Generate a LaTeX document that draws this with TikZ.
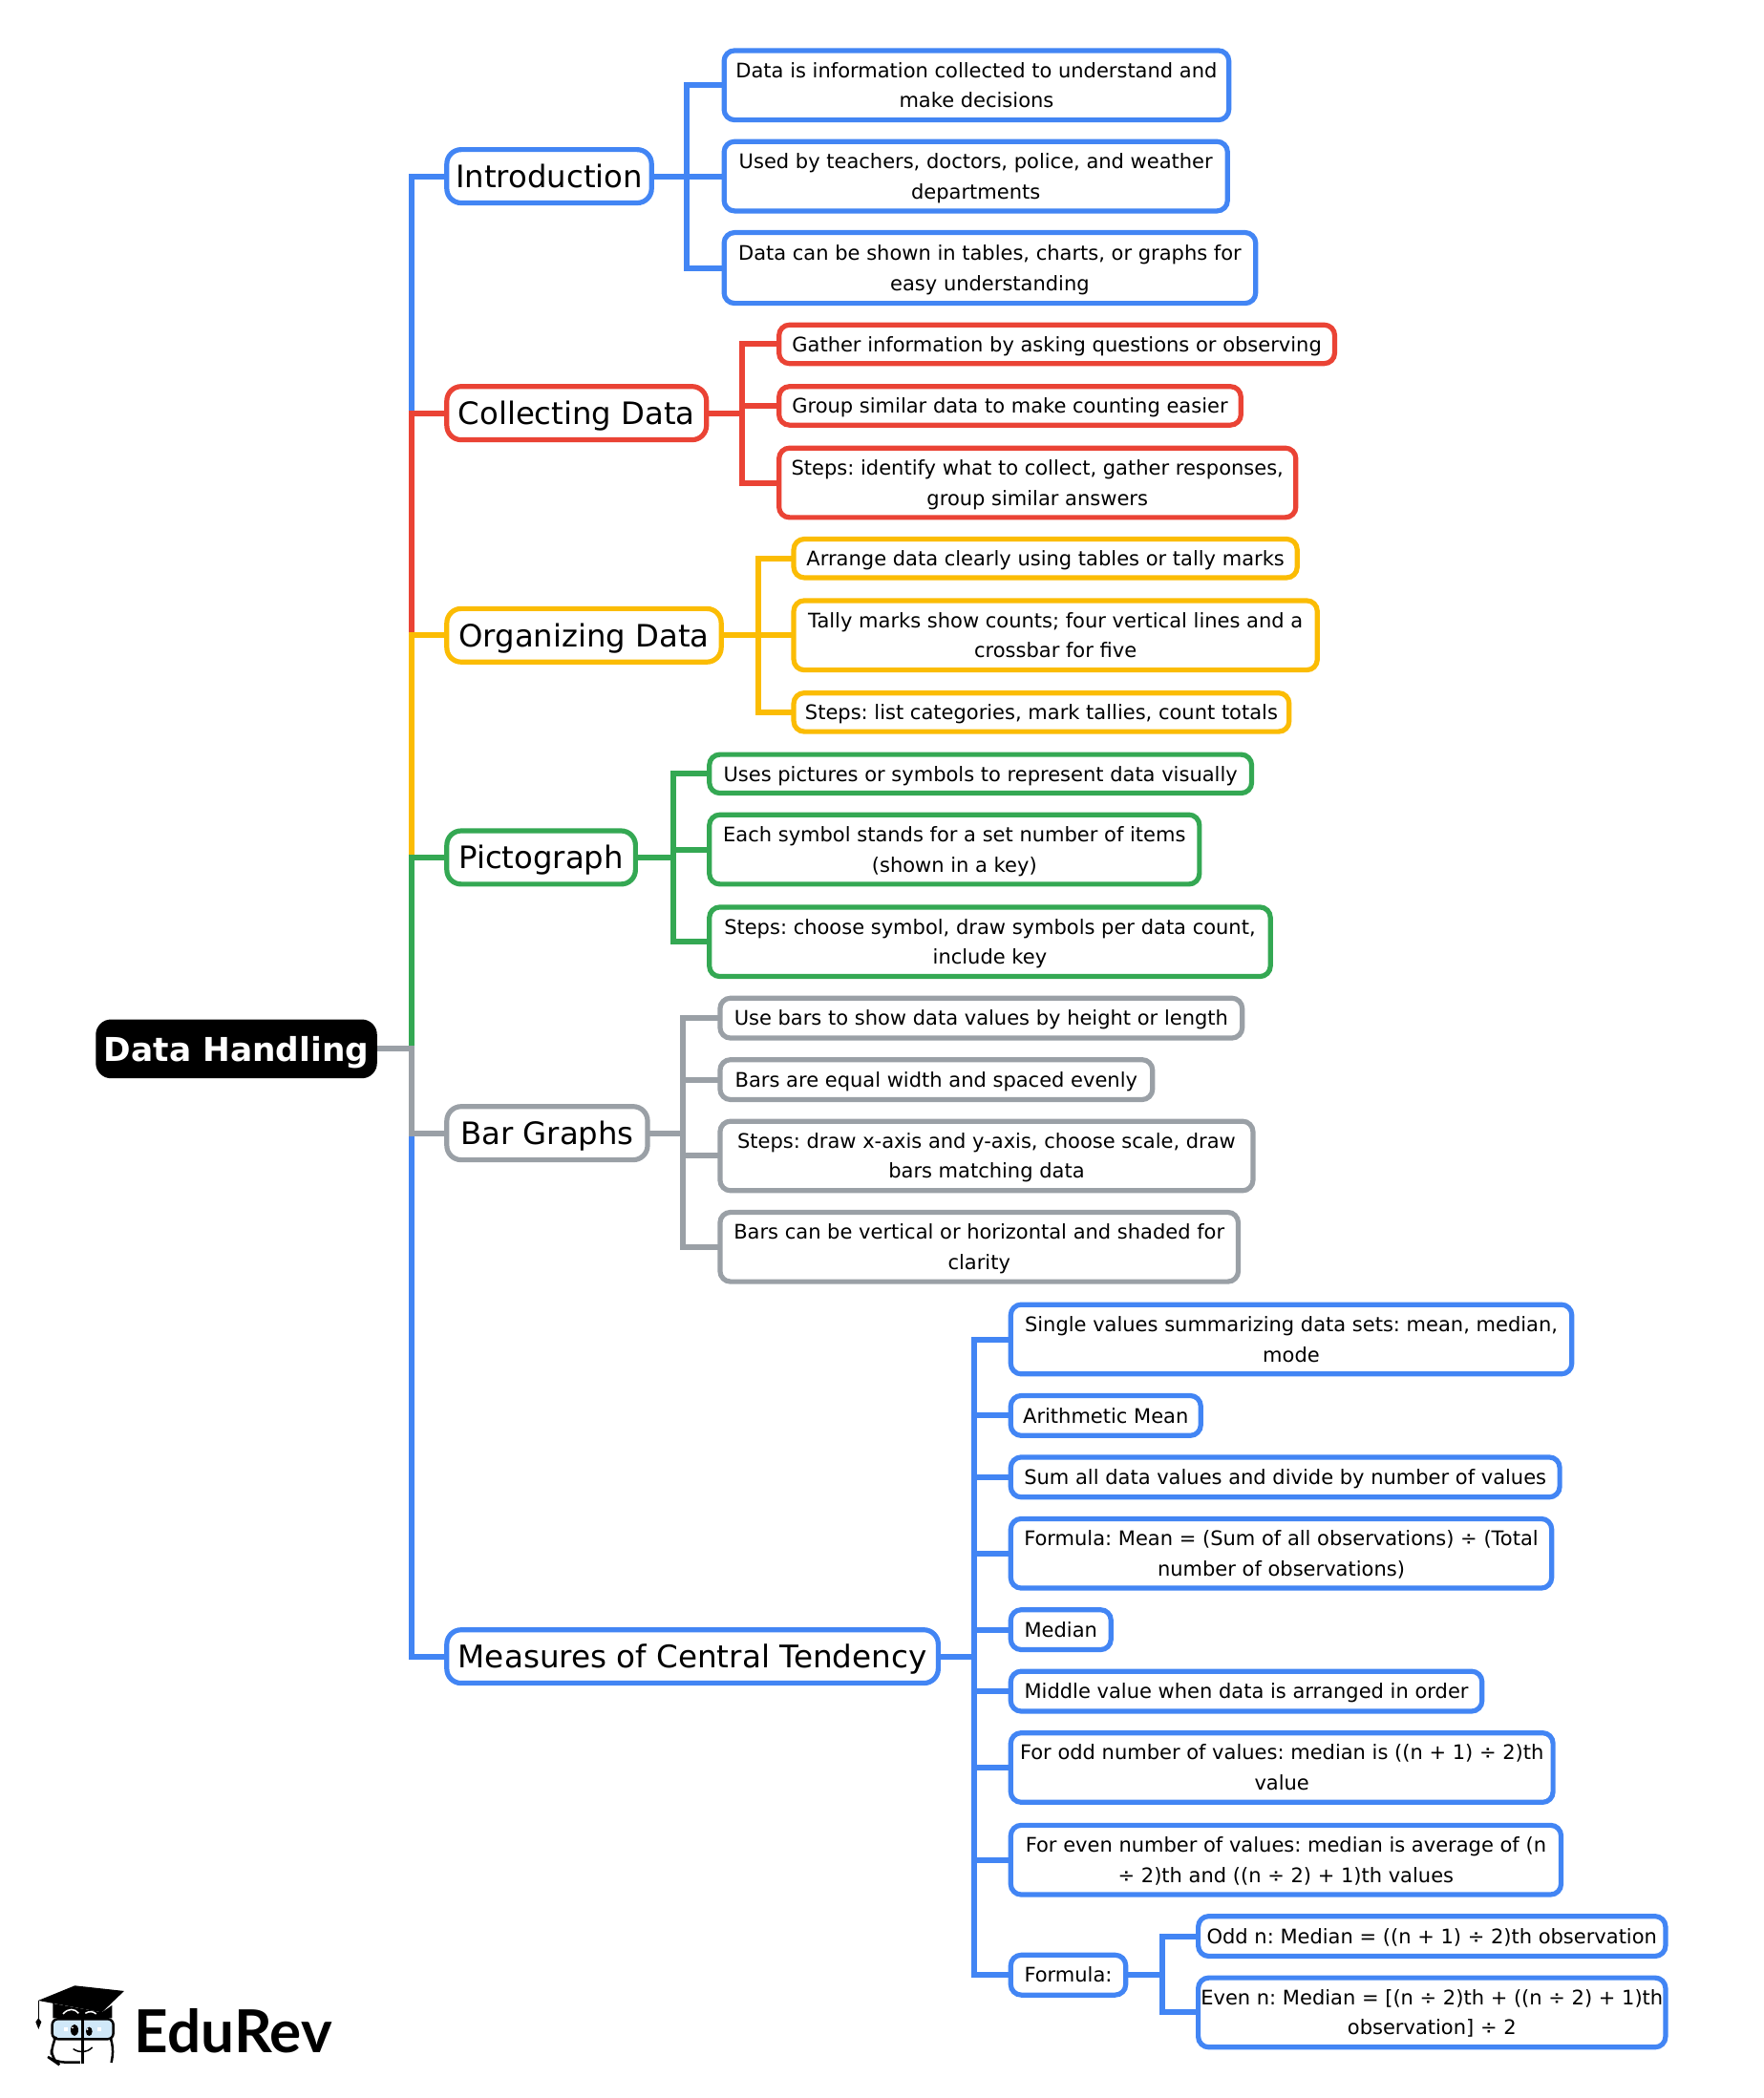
\documentclass[tikz,border=0pt]{standalone}
\usepackage{fontspec}
\setmainfont{DejaVu Sans}
\newfontfamily\logofont{Lato}
\frenchspacing
\definecolor{cblue}{HTML}{4285F4}
\definecolor{cred}{HTML}{EA4335}
\definecolor{cyellow}{HTML}{FBBC04}
\definecolor{cgreen}{HTML}{34A853}
\definecolor{cgrey}{HTML}{9AA0A6}
\definecolor{cglass}{HTML}{D0E8F8}
\tikzset{
  box/.style n args={4}{at={({(#1+#2)/2-0.5},{(#3+#4)/2-0.3})},
    minimum width={(#2-#1)*1.4025-3},minimum height={(#4-#3)*1.4015-3}},
  rootbox/.style={fill=black,text=white,rounded corners=16pt,inner sep=0pt,outer sep=0pt,
    text height=25.5pt,text depth=0pt,
    font=\fontsize{34.4}{40}\selectfont\bfseries},
  topicbox/.style={draw=#1,fill=white,line width=5.2pt,rounded corners=15pt,inner sep=0pt,outer sep=2.25pt,
    text height=24pt,text depth=0pt,
    font=\fontsize{32.3}{38}\selectfont},
  leafbox/.style={draw=#1,fill=white,line width=5.2pt,rounded corners=11pt,inner sep=0pt,outer sep=2.25pt,align=center,
    text height=15.5pt,text depth=0pt,
    font=\fontsize{21}{31.5}\selectfont},
  twoline/.style={text height=47pt,text depth=0pt},
  conn/.style={draw=#1,line width=6pt,miter limit=10}
}
\begin{document}
\begin{tikzpicture}[x=1.4025pt,y=-1.4015pt]
\useasboundingbox (0,0) rectangle (1316.9,1567.6);
\coordinate (trunk) at (307,784);
\coordinate (ba) at (513,132);
\coordinate (bb) at (554,309);
\coordinate (bc) at (566,475);
\coordinate (bd) at (503,641);
\coordinate (be) at (510,847);
\coordinate (bf) at (727,1238);
\coordinate (bg) at (868,1476);
% ---- nodes
\node[rootbox,box={72}{282}{762}{806},minimum width=294.5pt,minimum height=61.7pt] (root) {Data Handling};
\node[topicbox=cblue,box={333}{488}{111}{153}] (intro) {Introduction};
\node[topicbox=cred,box={333}{529}{288}{330}] (coll) {Collecting Data};
\node[topicbox=cyellow,box={333}{540}{454}{496}] (org) {Organizing Data};
\node[topicbox=cgreen,box={333}{476}{620}{662}] (pict) {Pictograph};
\node[topicbox=cgrey,box={333}{485}{826}{868}] (bar) {Bar Graphs};
\node[topicbox=cblue,box={333}{702}{1217}{1259},font=\fontsize{32.6}{38}\selectfont] (meas) {Measures of Central Tendency};
\node[leafbox=cblue,twoline,box={540}{919}{37}{91}] (a1) {Data is information collected to understand and\\make decisions};
\node[leafbox=cblue,twoline,box={540}{918}{105}{159}] (a2) {Used by teachers, doctors, police, and weather\\departments};
\node[leafbox=cblue,twoline,box={540}{939}{173}{228}] (a3) {Data can be shown in tables, charts, or graphs for\\easy understanding};
\node[leafbox=cred,box={581}{998}{242}{273}] (b1) {Gather information by asking questions or observing};
\node[leafbox=cred,box={581}{928}{288}{319}] (b2) {Group similar data to make counting easier};
\node[leafbox=cred,twoline,box={581}{969}{334}{388}] (b3) {Steps: identify what to collect, gather responses,\\group similar answers};
\node[leafbox=cyellow,box={592}{970}{402}{433}] (c1) {Arrange data clearly using tables or tally marks};
\node[leafbox=cyellow,twoline,box={592}{985}{448}{502}] (c2) {Tally marks show counts; four vertical lines and a\\crossbar for five};
\node[leafbox=cyellow,box={592}{964}{517}{548}] (c3) {Steps: list categories, mark tallies, count totals};
\node[leafbox=cgreen,box={529}{936}{563}{594}] (d1) {Uses pictures or symbols to represent data visually};
\node[leafbox=cgreen,twoline,box={529}{897}{608}{662}] (d2) {Each symbol stands for a set number of items\\(shown in a key)};
\node[leafbox=cgreen,twoline,box={529}{950}{677}{731}] (d3) {Steps: choose symbol, draw symbols per data count,\\include key};
\node[leafbox=cgrey,box={537}{929}{745}{777}] (e1) {Use bars to show data values by height or length};
\node[leafbox=cgrey,box={537}{862}{791}{823}] (e2) {Bars are equal width and spaced evenly};
\node[leafbox=cgrey,twoline,box={537}{937}{837}{891}] (e3) {Steps: draw x-axis and y-axis, choose scale, draw\\bars matching data};
\node[leafbox=cgrey,twoline,box={537}{926}{905}{959}] (e4) {Bars can be vertical or horizontal and shaded for\\clarity};
\node[leafbox=cblue,twoline,box={754}{1175}{974}{1028}] (f1) {Single values summarizing data sets: mean, median,\\mode};
\node[leafbox=cblue,box={754}{898}{1042}{1074}] (f2) {Arithmetic Mean};
\node[leafbox=cblue,box={754}{1166}{1088}{1120}] (f3) {Sum all data values and divide by number of values};
\node[leafbox=cblue,twoline,box={754}{1160}{1134}{1188}] (f4) {Formula: Mean = (Sum of all observations) ÷ (Total\\number of observations)};
\node[leafbox=cblue,box={754}{831}{1202}{1234}] (f5) {Median};
\node[leafbox=cblue,box={754}{1108}{1248}{1280}] (f6) {Middle value when data is arranged in order};
\node[leafbox=cblue,twoline,box={754}{1161}{1294}{1348}] (f7) {For odd number of values: median is ((n + 1) ÷ 2)th\\value};
\node[leafbox=cblue,twoline,box={754}{1167}{1363}{1417}] (f8) {For even number of values: median is average of (n\\÷ 2)th and ((n ÷ 2) + 1)th values};
\node[leafbox=cblue,box={754}{842}{1460}{1492}] (f9) {Formula:};
\node[leafbox=cblue,box={894}{1245}{1431}{1463}] (g1) {Odd n: Median = ((n + 1) ÷ 2)th observation};
\node[leafbox=cblue,twoline,box={894}{1245}{1477}{1531}] (g2) {Even n: Median = [(n ÷ 2)th + ((n ÷ 2) + 1)th\\observation] ÷ 2};
% ---- connectors
\draw[conn=cblue] (root.east) -- (root.east -| trunk) |- (meas.west);
\draw[conn=cblue] (root.east) -- (root.east -| trunk) |- (intro.west);
\draw[conn=cred] (root.east) -- (root.east -| trunk) |- (coll.west);
\draw[conn=cyellow] (root.east) -- (root.east -| trunk) |- (org.west);
\draw[conn=cgreen] (root.east) -- (root.east -| trunk) |- (pict.west);
\draw[conn=cgrey] (root.east) -- (root.east -| trunk) |- (bar.west);
\foreach \c in {a1,a2,a3} \draw[conn=cblue] (intro.east) -- (intro.east -| ba) |- (\c.west);
\foreach \c in {b1,b2,b3} \draw[conn=cred] (coll.east) -- (coll.east -| bb) |- (\c.west);
\foreach \c in {c1,c2,c3} \draw[conn=cyellow] (org.east) -- (org.east -| bc) |- (\c.west);
\foreach \c in {d1,d2,d3} \draw[conn=cgreen] (pict.east) -- (pict.east -| bd) |- (\c.west);
\foreach \c in {e1,e2,e3,e4} \draw[conn=cgrey] (bar.east) -- (bar.east -| be) |- (\c.west);
\foreach \c in {f1,f2,f3,f4,f5,f6,f7,f8,f9} \draw[conn=cblue] (meas.east) -- (meas.east -| bf) |- (\c.west);
\foreach \c in {g1,g2} \draw[conn=cblue] (f9.east) -- (f9.east -| bg) |- (\c.west);
% ---- logo
\begin{scope}[shift={(0,1427.0)},x=0.3333pt,y=-0.3333pt]
\fill (120,285) -- (235,238) -- (390,255) -- (320,322) -- cycle;
\fill (166,294) -- (166,340) -- (352,340) -- (352,300) -- (320,322) -- cycle;
\draw[line width=1.5pt] (121,285) -- (121,345);
\fill (121,375) -- (112,352) -- (121,340) -- (130,352) -- cycle;
\draw[white,line width=1.5pt] (198,327) .. controls (215,308) and (235,310) .. (247,325);
\draw[white,line width=1.5pt] (268,325) .. controls (280,318) and (292,318) .. (302,327);
\draw[black,fill=cglass,line width=2.5pt,rounded corners=6pt] (164,343) rectangle (356,406);
\draw[black,line width=2.5pt,rounded corners=10pt] (170,410) -- (162,425) -- (162,470) -- (175,479) -- (252,479);
\draw[black,line width=2.5pt,rounded corners=10pt] (350,410) -- (358,430) -- (350,480);
\draw[black,line width=3pt] (261,336) -- (261,482);
\fill (234,378) ellipse (12 and 18);
\fill (280,382) ellipse (10 and 14);
\fill[white] (228,370) circle (3);
\fill[white] (275,375) circle (3);
\fill[white] (200,370) rectangle (212,382);
\fill[white] (306,370) rectangle (318,382);
\draw[line width=1.5pt] (230,437) .. controls (250,450) and (272,450) .. (290,432);
\node[font=\logofont\bfseries\fontsize{62}{70}\selectfont,inner sep=0pt] (logotext) at (733,380) {EduRev};
\end{scope}
\end{tikzpicture}
\end{document}
